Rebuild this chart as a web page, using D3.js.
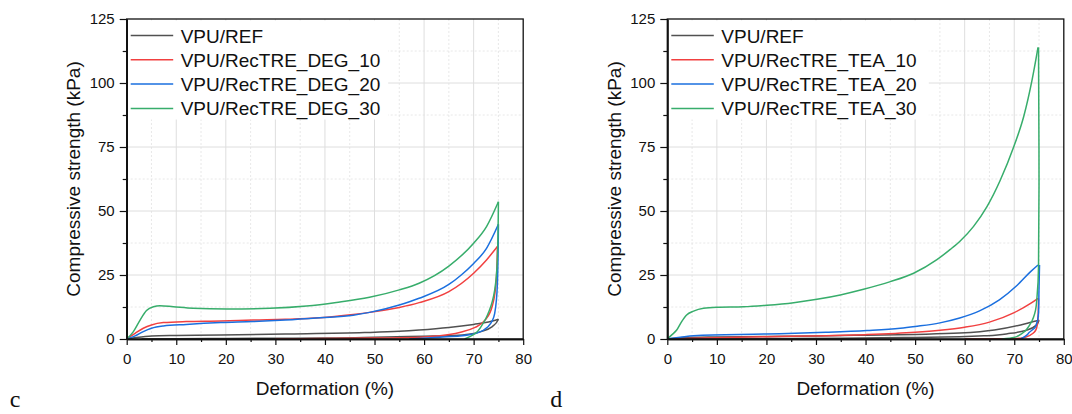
<!DOCTYPE html>
<html>
<head>
<meta charset="utf-8">
<script src="https://cdn.jsdelivr.net/npm/d3@7/dist/d3.min.js"></script>
<style>
  body { margin: 0; background: #fff; }
  svg text { font-family: "Liberation Sans", Arial, sans-serif; fill: #111; }
</style>
</head>
<body>
<div id="chart"></div>
<script>
// ---- values: [deformation %, strength kPa] ----
// loading runs left -> right, unloading runs from the peak back down
// panel c (DEG)
const degRefLoad   = [[0,0],[2,0.6],[5,1.2],[10,1.4],[19,1.6],[32,1.95],[48,2.5],[55,3.0],[59,3.5],[65,4.5],[70,5.7],[73,6.6],[75,7.7]];
const degRefUnload = [[75,7.7],[74,5.2],[72,3.2],[69,1.9],[65,1.3],[60,1.1],[50,0.7],[40,0.4],[30,0.3],[20,0.2],[10,0.1],[3,0]];
const deg10Load    = [[0,0],[1.7,2.2],[3.35,4.2],[5,5.5],[7.4,6.4],[12,6.8],[19,7.0],[25.5,7.4],[32,7.7],[39,8.3],[45.7,9.6],[49,10.4],[55,12.3],[59,14.2],[65,18.5],[70,25.7],[72.6,30.9],[74.8,36.1]];
const deg10Unload  = [[74.8,36.1],[74.6,24],[73.9,13.9],[72.6,8.1],[70.6,4.8],[67.9,2.9],[63.2,1.3],[59,0.7],[50,0.35],[40,0.15],[30,0]];
const deg20Load    = [[0,0],[1.7,1.2],[3.35,2.9],[5,4.2],[7.4,5.1],[12,5.7],[19,6.4],[25.5,6.8],[32,7.4],[39,8.3],[45.7,9.3],[49,10.4],[55,13.3],[59,15.9],[65,21.3],[67.5,25],[70,29.5],[72.6,35.4],[75,44.8]];
const deg20Unload  = [[75,44.8],[74.8,22],[74.25,10],[72.9,4.8],[70.9,2.5],[67.2,1.2],[63.2,0.7],[59,0.2],[57,0]];
const deg30Load    = [[0,0],[1.35,2.9],[2.7,7.4],[4,11.1],[5.4,12.6],[6.7,13.0],[9.4,12.6],[13.4,12.0],[20.2,11.7],[28.9,12.0],[36.3,12.9],[42.3,14.3],[49,16.3],[55,19.2],[59,21.8],[65,28.5],[70,37.4],[72.6,43.9],[75,53.6]];
const deg30Unload  = [[75,53.6],[74.8,32],[74.25,19.1],[73.2,11.3],[71.9,6.1],[69.9,1.6],[68.2,0]];

// panel d (TEA)
const teaRefLoad   = [[0,0],[3,0.5],[10,0.8],[20,1.0],[30,1.2],[40,1.5],[50,1.8],[59,2.3],[66,3.5],[71.3,5.5],[73.9,6.8],[75,7.3]];
const teaRefUnload = [[75,7.3],[74.5,5.5],[72.6,3.5],[69.2,2.2],[64.5,1.3],[59,0.9],[50,0.6],[35,0.3],[20,0.15],[5,0]];
const tea10Load    = [[0,0],[5.3,0.3],[20,0.9],[32,1.3],[40,1.7],[50,2.6],[55,3.4],[60,4.6],[65,6.6],[70,10.3],[73.3,13.9],[74.8,15.9]];
const tea10Unload  = [[74.9,15.9],[74.8,8.1],[74.5,4.2],[73.3,1.6],[71.3,0.3],[67,0.1],[60,0]];
const tea20Load    = [[0,0],[2.6,0.65],[5.3,1.3],[20,1.95],[32,2.6],[40.3,3.3],[47,4.2],[50,4.9],[55,6.3],[59,8.2],[63,11.0],[67,15.3],[70.6,21],[73.3,26.3],[74.8,28.9]];
const tea20Unload  = [[75.1,28.9],[75,20],[74.9,10],[74.3,4.8],[73,2.5],[72.6,1.6],[71.3,0]];
const tea30Load    = [[0,0],[0.9,1.6],[1.9,3.5],[2.9,6.8],[3.9,9.4],[5.3,10.9],[7.3,12.0],[10,12.4],[15.4,12.6],[20.1,13.2],[25.5,14.2],[30.2,15.5],[34.9,17.2],[39.6,19.4],[45,22.4],[49.7,25.7],[54.4,31.0],[57.1,35.0],[59.1,38.3],[61.8,44.0],[64.5,51.7],[67.2,62.1],[69.9,75.1],[71.9,86.8],[73.6,101.2],[74.8,113.9]];
const tea30Unload  = [[74.9,113.9],[75,60],[74.9,28.2],[74.6,16.5],[74.3,11.3],[73.3,6.1],[71.6,2.2],[69.9,0.6],[67.5,0]];

const degNames = ['VPU/REF', 'VPU/RecTRE_DEG_10', 'VPU/RecTRE_DEG_20', 'VPU/RecTRE_DEG_30'];
const teaNames = ['VPU/REF', 'VPU/RecTRE_TEA_10', 'VPU/RecTRE_TEA_20', 'VPU/RecTRE_TEA_30'];
const xTicks = [0, 10, 20, 30, 40, 50, 60, 70, 80];
const yTicks = [0, 25, 50, 75, 100, 125];

// Origin default palette
const colors = ['#515151', '#F14040', '#1A6FDF', '#37AD6B'];

const W = 1072, H = 414;
const svg = d3.select('#chart').append('svg')
  .attr('width', W).attr('height', H)
  .style('display', 'block');
svg.append('rect').attr('width', W).attr('height', H).attr('fill', '#fff');

function renderPanel(left, names, curves, letter) {
  const right = left + 396.5;
  const top = 19, bottom = 339;
  const x = d3.scaleLinear().domain([0, 80]).range([left, right]);
  const y = d3.scaleLinear().domain([0, 125]).range([bottom, top]);
  const g = svg.append('g');

  // grid: solid majors, dashed minors
  const xMinor = d3.range(5, 80, 10), yMinor = d3.range(12.5, 125, 25);
  g.selectAll('.gxm').data(xTicks.slice(1, -1)).join('line')
    .attr('x1', d => x(d)).attr('x2', d => x(d)).attr('y1', top).attr('y2', bottom)
    .attr('stroke', '#dedede').attr('stroke-width', 1);
  g.selectAll('.gxn').data(xMinor).join('line')
    .attr('x1', d => x(d)).attr('x2', d => x(d)).attr('y1', top).attr('y2', bottom)
    .attr('stroke', '#e2e2e2').attr('stroke-width', 0.8).attr('stroke-dasharray', '2,2');
  g.selectAll('.gym').data(yTicks.slice(1, -1)).join('line')
    .attr('x1', left).attr('x2', right).attr('y1', d => y(d)).attr('y2', d => y(d))
    .attr('stroke', '#dedede').attr('stroke-width', 1);
  g.selectAll('.gyn').data(yMinor).join('line')
    .attr('x1', left).attr('x2', right).attr('y1', d => y(d)).attr('y2', d => y(d))
    .attr('stroke', '#e2e2e2').attr('stroke-width', 0.8).attr('stroke-dasharray', '2,2');

  // hysteresis loops: loading is monotone in x, unloading monotone in y
  const loadLine = d3.line()
    .x(d => x(d[0])).y(d => y(d[1]))
    .curve(d3.curveMonotoneX);
  const unloadLine = d3.line()
    .x(d => x(d[0])).y(d => y(d[1]))
    .curve(d3.curveMonotoneY);
  curves.forEach((c, i) => {
    [loadLine(c[0]), unloadLine(c[1])].forEach(p => {
      g.append('path')
        .attr('d', p)
        .attr('fill', 'none')
        .attr('stroke', colors[i])
        .attr('stroke-width', 1.5)
        .attr('stroke-linejoin', 'round');
    });
  });

  // legend (white box hides the grid)
  const lx = left + 4, ly = 35.5, step = 24.3;
  g.append('rect')
    .attr('x', left + 1.5).attr('y', top + 1.5)
    .attr('width', 260).attr('height', 99)
    .attr('fill', '#fff');
  names.forEach((n, i) => {
    g.append('line')
      .attr('x1', lx).attr('x2', lx + 42.5)
      .attr('y1', ly + i * step).attr('y2', ly + i * step)
      .attr('stroke', colors[i]).attr('stroke-width', 1.5);
    g.append('text')
      .attr('x', lx + 50).attr('y', ly + i * step + 7)
      .attr('font-size', 19)
      .text(n);
  });

  // frame
  g.append('rect')
    .attr('x', left).attr('y', top)
    .attr('width', right - left).attr('height', bottom - top)
    .attr('fill', 'none').attr('stroke', '#111').attr('stroke-width', 1.3);

  // axes
  g.append('g').attr('transform', `translate(0,${bottom})`)
    .call(d3.axisBottom(x).tickValues(xTicks).tickSize(6).tickSizeOuter(0).tickPadding(8));
  g.append('g').attr('transform', `translate(0,${bottom})`)
    .call(d3.axisBottom(x).tickValues(xMinor).tickSize(3).tickSizeOuter(0).tickFormat(''));
  g.append('g').attr('transform', `translate(${left},0)`)
    .call(d3.axisLeft(y).tickValues(yTicks).tickSize(7).tickSizeOuter(0).tickPadding(5));
  g.append('g').attr('transform', `translate(${left},0)`)
    .call(d3.axisLeft(y).tickValues(yMinor).tickSize(4).tickSizeOuter(0).tickFormat(''));

  g.selectAll('.domain').attr('stroke', '#111').attr('stroke-width', 1.6);
  g.selectAll('.tick line').attr('stroke', '#111').attr('stroke-width', 1.2);
  g.selectAll('.tick text')
    .attr('font-size', 15)
    .attr('font-family', '"Liberation Sans", Arial, sans-serif')
    .attr('fill', '#111');

  // axis titles
  g.append('text')
    .attr('x', (left + right) / 2).attr('y', 395)
    .attr('text-anchor', 'middle').attr('font-size', 19)
    .text('Deformation (%)');
  g.append('text')
    .attr('transform', `translate(${left - 46.5},${(top + bottom) / 2}) rotate(-90)`)
    .attr('text-anchor', 'middle').attr('font-size', 19)
    .text('Compressive strength (kPa)');

  // panel letter
  svg.append('text')
    .attr('x', left - 117).attr('y', 407)
    .attr('font-size', 24)
    .style('font-family', '"Liberation Serif", "Times New Roman", serif')
    .text(letter);
}

renderPanel(126.7,
  degNames,
  [[degRefLoad, degRefUnload], [deg10Load, deg10Unload], [deg20Load, deg20Unload], [deg30Load, deg30Unload]],
  'c');
renderPanel(667.3,
  teaNames,
  [[teaRefLoad, teaRefUnload], [tea10Load, tea10Unload], [tea20Load, tea20Unload], [tea30Load, tea30Unload]],
  'd');
</script>
</body>
</html>
